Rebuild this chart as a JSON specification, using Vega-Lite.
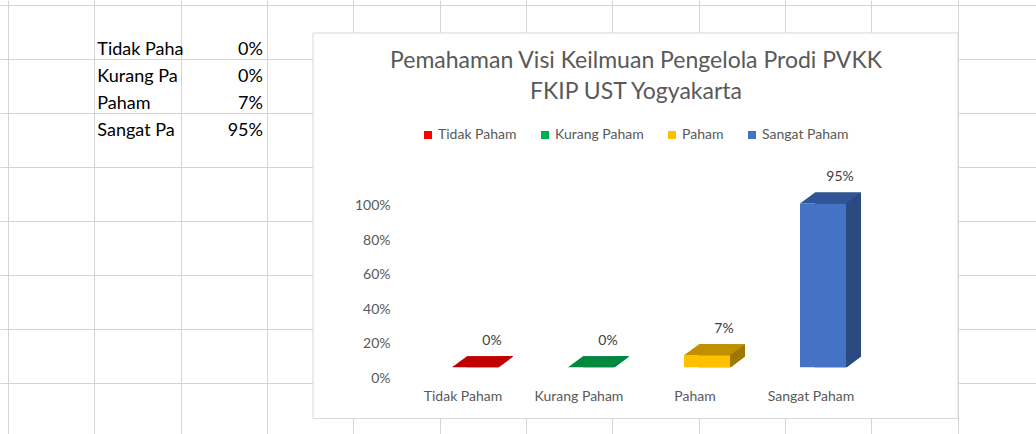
{
  "$schema": "https://vega.github.io/schema/vega-lite/v6.json",
  "width": 1036,
  "height": 434,
  "autosize": {"type": "none"},
  "padding": 0,
  "background": "white",
  "config": {"view": {"stroke": null}, "font": "Lato"},
  "title": {
    "text": ["Pemahaman Visi Keilmuan Pengelola Prodi PVKK", "FKIP UST Yogyakarta"],
    "font": "Lato",
    "fontSize": 23,
    "fontWeight": "normal",
    "color": "#595959",
    "anchor": "middle",
    "frame": "group",
    "baseline": "top",
    "lineHeight": 31,
    "offset": 0,
    "dx": 118,
    "dy": 104
  },
  "data": {
    "values": [
      {"kategori": "Tidak Paham", "persen": 0, "baris": 2},
      {"kategori": "Kurang Paham", "persen": 0, "baris": 3},
      {"kategori": "Paham", "persen": 0.07, "baris": 4},
      {"kategori": "Sangat Paham", "persen": 0.95, "baris": 5}
    ]
  },
  "layer": [
    {
      "layer": [
        {
          "data": {"values": [{"objek": "area grafik"}]},
          "mark": {"type": "rect", "fill": "white", "stroke": "#d9d9d9", "strokeWidth": 1},
          "encoding": {
            "x": {
              "datum": 3.533, "type": "quantitative",
              "scale": {"domain": [-0.09267, 11.9078], "nice": false, "zero": false},
              "axis": {"orient": "bottom", "values": [0,1,2,3,4,5,6,7,8,9,10,11], "grid": true, "gridColor": "#d4d4d4", "gridWidth": 1, "labels": false, "ticks": false, "domain": false, "title": null}
            },
            "x2": {"datum": 11.004},
            "y": {
              "datum": 1.048, "type": "quantitative",
              "scale": {"domain": [-0.1741, 15.9], "reverse": true, "nice": false, "zero": false},
              "axis": {"orient": "right", "values": [0,1,2,3,4,5,6,7,8,9,10,11,12,13,14,15], "grid": true, "gridColor": "#d4d4d4", "gridWidth": 1, "labels": false, "ticks": false, "domain": false, "title": null}
            },
            "y2": {"datum": 15.326}
          }
        },
        {
          "mark": {"type": "text", "align": "left", "baseline": "alphabetic", "dx": 3, "dy": -4, "font": "Lato", "fontSize": 18, "color": "black", "limit": 87, "ellipsis": "\u200b"},
          "encoding": {
            "x": {"datum": 1, "type": "quantitative"},
            "y": {"field": "baris", "type": "quantitative"},
            "text": {"field": "kategori"}
          }
        },
        {
          "mark": {"type": "text", "align": "right", "baseline": "alphabetic", "dx": -4, "dy": -4, "font": "Lato", "fontSize": 18, "color": "black"},
          "encoding": {
            "x": {"datum": 3, "type": "quantitative"},
            "y": {"field": "baris", "type": "quantitative"},
            "text": {"field": "persen", "type": "quantitative", "format": ".0%"}
          }
        }
      ]
    },
    {
      "encoding": {
        "x": {
          "field": "kategori", "type": "nominal", "sort": null,
          "scale": {"range": [452, 846], "paddingInner": 0.60345, "paddingOuter": 0, "round": false},
          "axis": null
        },
        "y": {
          "field": "persen", "type": "quantitative", "stack": null,
          "scale": {"domain": [-0.3867, 2.1293], "nice": false, "zero": false},
          "axis": {"orient": "left", "offset": -390, "values": [0, 0.2, 0.4, 0.6, 0.8, 1], "format": ".0%", "labelFont": "Lato", "labelFontSize": 14, "labelColor": "#595959", "ticks": false, "domain": false, "grid": false, "labelPadding": 0, "labelOffset": 11, "labelOverlap": false, "title": null, "zindex": 1}
        }
      },
      "layer": [
        {
          "mark": {"type": "bar", "xOffset": 15, "x2Offset": 15, "yOffset": -11, "y2Offset": -11},
          "encoding": {
            "color": {"field": "kategori", "type": "nominal", "scale": {"domain": ["Tidak Paham", "Kurang Paham", "Paham", "Sangat Paham"], "range": ["#C00000", "#00883F", "#A07800", "#2A4A80"]}, "legend": null}
          }
        },
        {
          "mark": {"type": "point", "filled": true, "opacity": 1, "strokeWidth": 0, "size": 6400, "shape": "M0.575,-0.275L0.575,0L0.95,-0.275Z"},
          "encoding": {
            "y": {"datum": 0, "type": "quantitative", "axis": {"title": null}},
            "color": {"field": "kategori", "type": "nominal", "scale": {"domain": ["Tidak Paham", "Kurang Paham", "Paham", "Sangat Paham"], "range": ["#C00000", "#00883F", "#A07800", "#2A4A80"]}, "legend": null}
          }
        },
        {
          "mark": {"type": "point", "filled": true, "opacity": 1, "strokeWidth": 0, "size": 6400, "color": "white", "shape": "M0.575,0.02L0.97,0.02L0.97,-0.28Z"},
          "encoding": {
            "y": {"datum": 0, "type": "quantitative", "axis": {"title": null}}
          }
        },
        {
          "mark": {"type": "bar"},
          "encoding": {
            "color": {
              "field": "kategori", "type": "nominal",
              "scale": {"domain": ["Tidak Paham", "Kurang Paham", "Paham", "Sangat Paham"], "range": ["#FF0000", "#00B050", "#FFC000", "#4472C4"]},
              "legend": {"orient": "none", "legendX": 421, "legendY": 128, "direction": "horizontal", "title": null, "padding": 0, "symbolType": "square", "symbolSize": 64, "symbolStrokeWidth": 0, "labelFont": "Lato", "labelFontSize": 14, "labelColor": "#595959", "columnPadding": 21, "labelOffset": 3}
            }
          }
        },
        {
          "mark": {"type": "point", "filled": true, "opacity": 1, "strokeWidth": 0, "size": 6400, "shape": "M-0.575,0L0.575,0L0.95,-0.275L-0.2,-0.275Z"},
          "encoding": {
            "color": {"field": "kategori", "type": "nominal", "scale": {"domain": ["Tidak Paham", "Kurang Paham", "Paham", "Sangat Paham"], "range": ["#C00000", "#00883F", "#C09000", "#2F5597"]}, "legend": null}
          }
        },
        {
          "mark": {"type": "text", "dx": 17, "dy": -26, "baseline": "middle", "font": "Lato", "fontSize": 14, "color": "#404040"},
          "encoding": {
            "text": {"field": "persen", "type": "quantitative", "format": ".0%"}
          }
        },
        {
          "mark": {"type": "text", "dx": -12, "dy": 30, "baseline": "middle", "font": "Lato", "fontSize": 14, "color": "#595959"},
          "encoding": {
            "y": {"datum": 0, "type": "quantitative", "axis": {"title": null}},
            "text": {"field": "kategori"}
          }
        }
      ],
      "resolve": {"scale": {"color": "independent"}, "legend": {"color": "independent"}}
    }
  ],
  "resolve": {"scale": {"x": "independent", "y": "independent"}, "axis": {"x": "independent", "y": "independent"}}
}
